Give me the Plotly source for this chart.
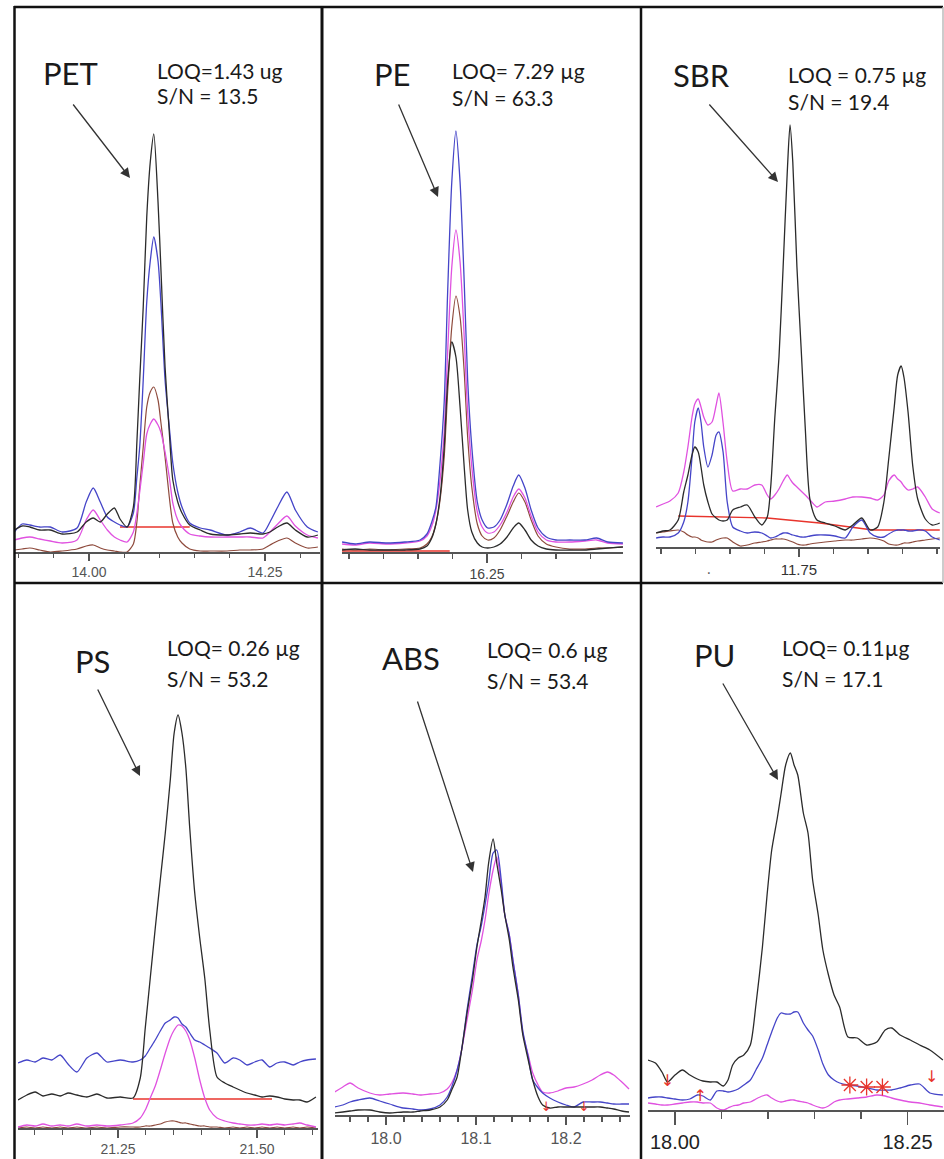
import plotly.graph_objects as go

W, H = 944, 1159

# ---------------- DATA (retention time in min, intensity in arbitrary units) ----------------
PET_RT = [13.894, 13.905, 13.916, 13.930, 13.945, 13.962, 13.983, 13.996, 14.006, 14.016, 14.026, 14.036,
          14.044, 14.054, 14.063, 14.068, 14.072, 14.077, 14.082, 14.087, 14.092, 14.098, 14.102, 14.108,
          14.114, 14.119, 14.126, 14.132, 14.143, 14.158, 14.172, 14.196, 14.214, 14.229, 14.247, 14.257,
          14.268, 14.281, 14.293, 14.310, 14.325]
PET_BLUE = [20, 28, 27, 25, 25, 20, 24, 50, 64, 50, 35, 30, 27, 25, 39, 75, 105, 172, 250, 291, 315, 291, 250,
            172, 125, 89, 60, 45, 29, 24, 22, 17, 20, 24, 19, 30, 45, 60, 42, 25, 20]
PET_BLACK = [22, 26, 25, 22, 22, 18, 20, 30, 34, 30, 38, 44, 33, 25, 45, 110, 172, 245, 335, 390, 418, 350, 285,
             185, 120, 72, 50, 39, 27, 22, 18, 17, 18, 19, 18, 20, 25, 29, 22, 15, 17]
PET_MAGENTA = [12, 14, 15, 13, 11, 9, 12, 32, 42, 32, 22, 15, 12, 10, 20, 39, 60, 89, 118, 128, 133, 127, 120,
               100, 75, 49, 32, 25, 18, 16, 15, 15, 15, 15, 14, 20, 28, 36, 26, 17, 14]
PET_BROWN = [2, 3, 4, 2, 0, 1, 3, 6, 7, 4, 2, 1, 0, 0, 8, 30, 65, 105, 145, 160, 165, 152, 130, 95, 55, 29, 15,
             9, 3, 1, 1, 1, 2, 2, 3, 7, 11, 14, 9, 4, 5]
PET_BASE_RT = [14.044, 14.143]
PET_BASE = [25, 25]

PE_RT = [16.040, 16.059, 16.080, 16.105, 16.131, 16.153, 16.163, 16.170, 16.176, 16.182, 16.188, 16.193,
         16.199, 16.205, 16.211, 16.217, 16.222, 16.228, 16.236, 16.243, 16.251, 16.260, 16.269, 16.279,
         16.288, 16.296, 16.305, 16.314, 16.324, 16.336, 16.350, 16.370, 16.392, 16.409, 16.425, 16.447]
PE_BLUE = [10, 8, 10, 9, 10, 12, 18, 30, 45, 89, 150, 260, 370, 421, 370, 270, 172, 105, 50, 32, 24, 25, 32, 48,
           66, 77, 64, 42, 24, 15, 12, 12, 12, 14, 10, 9]
PE_MAGENTA = [8, 7, 9, 8, 9, 11, 16, 26, 42, 72, 120, 200, 285, 322, 290, 215, 140, 85, 40, 25, 19, 20, 27, 40,
              55, 63, 54, 36, 20, 12, 10, 10, 11, 12, 9, 8]
PE_BROWN = [3, 2, 3, 2, 3, 4, 8, 15, 28, 52, 95, 160, 225, 256, 235, 180, 115, 65, 28, 16, 12, 14, 22, 36, 50,
            59, 50, 32, 16, 8, 5, 3, 3, 4, 4, 5]
PE_BLACK = [2, 3, 2, 2, 2, 3, 6, 14, 28, 55, 105, 170, 210, 195, 145, 85, 42, 20, 9, 5, 4, 5, 8, 15, 24, 29, 22,
            12, 6, 3, 2, 2, 2, 3, 4, 5]
PE_BASE_RT = [16.040, 16.196]
PE_BASE = [1, 1]

SBR_RT = [11.543, 11.553, 11.563, 11.575, 11.583, 11.589, 11.595, 11.599, 11.604, 11.608, 11.612, 11.618,
          11.624, 11.630, 11.634, 11.640, 11.646, 11.654, 11.665, 11.675, 11.686, 11.696, 11.704, 11.709,
          11.715, 11.721, 11.727, 11.733, 11.737, 11.741, 11.747, 11.753, 11.759, 11.766, 11.776, 11.788,
          11.802, 11.817, 11.828, 11.841, 11.853, 11.864, 11.873, 11.880, 11.888, 11.893, 11.898, 11.902,
          11.908, 11.915, 11.922, 11.933, 11.943, 11.954]
SBR_BLACK = [14, 16, 17, 27, 55, 72, 92, 100, 95, 80, 62, 45, 33, 29, 27, 26, 27, 37, 40, 42, 30, 22, 30, 60,
             130, 190, 280, 375, 422, 385, 280, 200, 120, 47, 27, 24, 21, 17, 22, 29, 17, 20, 45, 88, 140, 172,
             181, 170, 135, 80, 48, 28, 22, 24]
SBR_BLUE = [9, 10, 10, 14, 25, 45, 90, 125, 139, 125, 100, 80, 92, 112, 115, 95, 45, 20, 16, 14, 15, 14, 11, 9,
            10, 12, 14, 14, 13, 12, 11, 10, 10, 11, 12, 12, 11, 9, 20, 27, 14, 10, 10, 13, 16, 17, 17, 17, 16,
            16, 17, 16, 10, 7]
SBR_MAGENTA = [40, 43, 46, 54, 75, 100, 130, 143, 148, 140, 130, 122, 125, 142, 154, 124, 85, 56, 58, 58, 62, 62,
               52, 48, 52, 58, 66, 72, 68, 64, 60, 56, 52, 47, 40, 45, 46, 48, 50, 50, 49, 47, 52, 66, 72, 68,
               65, 61, 57, 58, 60, 50, 38, 34]
SBR_BROWN = [14, 15, 16, 17, 15, 12, 10, 10, 9, 7, 6, 5, 5, 7, 8, 9, 9, 5, 1, 2, 4, 5, 6, 7, 8, 8, 8, 7, 6, 5,
             3, 2, 2, 3, 4, 5, 6, 7, 7, 8, 9, 8, 6, 3, 2, 2, 3, 4, 4, 5, 6, 7, 8, 9]
SBR_BASE_RT = [11.575, 11.704, 11.780, 11.857, 11.954]
SBR_BASE = [31, 29, 24, 17, 17]

PS_RT = [21.070, 21.086, 21.101, 21.115, 21.131, 21.146, 21.160, 21.176, 21.194, 21.212, 21.230, 21.254,
         21.277, 21.290, 21.299, 21.308, 21.317, 21.326, 21.335, 21.344, 21.351, 21.358, 21.365, 21.372,
         21.379, 21.388, 21.397, 21.406, 21.415, 21.428, 21.442, 21.457, 21.469, 21.482, 21.496, 21.509,
         21.523, 21.536, 21.550, 21.565, 21.577, 21.590, 21.606]
PS_BLACK = [28, 33, 36, 32, 34, 32, 35, 33, 31, 34, 30, 31, 30, 50, 100, 150, 200, 248, 295, 348, 395, 413, 395,
            360, 300, 235, 190, 150, 98, 51, 45, 41, 38, 35, 33, 31, 32, 31, 29, 28, 28, 26, 31]
PS_BLUE = [65, 68, 66, 70, 68, 73, 64, 56, 70, 75, 66, 68, 66, 68, 72, 80, 88, 97, 105, 108, 111, 110, 104, 101,
           95, 88, 86, 83, 80, 75, 65, 70, 68, 63, 66, 68, 61, 65, 66, 63, 66, 68, 69]
PS_MAGENTA = [1, 3, 2, 4, 2, 3, 2, 4, 2, 3, 2, 3, 5, 10, 18, 30, 42, 58, 75, 90, 98, 103, 102, 97, 88, 70, 48,
              30, 18, 10, 7, 5, 4, 3, 3, 4, 3, 4, 3, 4, 5, 3, 1]
PS_BROWN = [0, 1, 0, 1, 0, 1, 0, 1, 0, 1, 0, 1, 1, 1, 2, 2, 3, 4, 6, 7, 7, 6, 5, 5, 4, 3, 2, 2, 1, 1, 0, 1, 0,
            1, 0, 1, 0, 1, 0, 1, 0, 1, 0]
PS_BASE_RT = [21.277, 21.527]
PS_BASE = [29, 29]

ABS_RT = [17.943, 17.952, 17.960, 17.969, 17.982, 17.993, 18.004, 18.019, 18.030, 18.038, 18.049, 18.060,
          18.068, 18.073, 18.079, 18.084, 18.090, 18.096, 18.101, 18.106, 18.110, 18.114, 18.119, 18.123,
          18.128, 18.132, 18.137, 18.141, 18.147, 18.152, 18.158, 18.163, 18.169, 18.174, 18.182, 18.191,
          18.200, 18.209, 18.219, 18.229, 18.238, 18.246, 18.253, 18.262, 18.270]
ABS_BLACK = [2, 3, 4, 5, 5, 3, 2, 3, 3, 4, 5, 8, 15, 25, 38, 65, 102, 135, 168, 195, 218, 252, 276, 252, 225,
             200, 175, 148, 115, 80, 55, 35, 18, 10, 7, 8, 8, 8, 8, 8, 8, 7, 6, 4, 3]
ABS_BLUE = [8, 10, 13, 15, 17, 14, 11, 7, 6, 5, 6, 10, 18, 28, 45, 65, 105, 140, 170, 190, 210, 232, 262, 265,
            235, 200, 180, 155, 120, 84, 58, 35, 27, 22, 17, 13, 10, 8, 13, 13, 13, 12, 11, 11, 11]
ABS_MAGENTA = [23, 28, 32, 27, 22, 20, 21, 22, 21, 20, 21, 22, 26, 32, 45, 65, 95, 125, 155, 175, 195, 220, 245,
               258, 230, 200, 180, 155, 120, 82, 60, 42, 30, 23, 22, 24, 27, 28, 31, 35, 40, 43, 40, 33, 26]
ABS_MARK_RT = [18.178, 18.220]
ABS_MARK = [7, 7]

PU_RT = [17.971, 17.979, 17.986, 17.992, 18.000, 18.008, 18.016, 18.024, 18.030, 18.038, 18.045, 18.052,
         18.057, 18.062, 18.068, 18.074, 18.081, 18.087, 18.094, 18.099, 18.104, 18.110, 18.114, 18.119,
         18.124, 18.128, 18.132, 18.138, 18.143, 18.148, 18.154, 18.159, 18.165, 18.171, 18.177, 18.186,
         18.196, 18.206, 18.217, 18.226, 18.233, 18.242, 18.253, 18.263, 18.274, 18.288]
PU_BLACK = [50, 47, 38, 28, 35, 40, 35, 31, 29, 28, 28, 24, 30, 45, 52, 55, 65, 105, 163, 215, 260, 292, 316,
            345, 357, 345, 335, 297, 277, 230, 195, 160, 135, 115, 103, 73, 72, 65, 68, 80, 82, 75, 70, 65, 60, 50]
PU_BLUE = [12, 13, 13, 12, 11, 10, 11, 15, 14, 10, 19, 19, 18, 19, 21, 25, 30, 40, 52, 65, 78, 92, 97, 96, 96,
           98, 98, 87, 80, 74, 60, 46, 35, 30, 27, 25, 24, 22, 20, 20, 20, 22, 25, 26, 17, 15]
PU_MAGENTA = [7, 6, 5, 5, 6, 7, 8, 8, 7, 7, 2, 0, 2, 4, 5, 7, 8, 11, 14, 15, 12, 9, 8, 9, 10, 10, 9, 8, 7, 5, 3,
              2, 4, 8, 10, 11, 12, 13, 15, 14, 12, 10, 8, 7, 5, 3]
PU_DOWN_RT = [17.992, 18.276]
PU_DOWN = [28, 32]
PU_UP_RT = [18.027]
PU_UP = [13]
PU_STAR_RT = [18.188, 18.206, 18.223]
PU_STAR = [25, 23, 23]

# ---------------- STYLE ----------------
C_BLACK = "#2b2b2b"
C_BLUE = "#4545c8"
C_MAG = "#e052e0"
C_BROWN = "#8e4a3c"
C_RED = "#e8342c"


def px_x(p):
    return p / W


def px_y(p):
    return 1 - p / H


fig = go.Figure()

panels = [
    dict(name="PET", x0=14, x1=320, yb=552, yt=10, rng=[13.8935, 14.328], dtick=0.25, minor=0.05, fmt=".2f",
         fs=14, tc="#555", tl=7, ml=4),
    dict(name="PE", x0=342, x1=623, yb=552, yt=10, rng=[16.0399, 16.4471], dtick=0.25, minor=0.05, fmt=".2f",
         fs=14, tc="#444", tl=9, ml=5),
    dict(name="SBR", x0=656, x1=940, yb=547, yt=10, rng=[11.5428, 11.9543], dtick=0.25, minor=0.05, fmt=".2f",
         fs=15, tc="#333", tl=8, ml=5),
    dict(name="PS", x0=18, x1=318, yb=1128, yt=588, rng=[21.0701, 21.6097], dtick=0.25, minor=0.05, fmt=".2f",
         fs=14, tc="#555", tl=8, ml=5),
    dict(name="ABS", x0=335, x1=630, yb=1115, yt=588, rng=[17.9433, 18.2711], dtick=0.1, minor=0.02, fmt=".1f",
         fs=16, tc="#555", tl=8, ml=5),
    dict(name="PU", x0=648, x1=944, yb=1110, yt=588, rng=[17.971, 18.2892], dtick=0.25, minor=0.05, fmt=".2f",
         fs=20, tc="#222", tl=13, ml=7),
]

series = {
    "PET": (PET_RT, PET_BROWN, PET_MAGENTA, PET_BLUE, PET_BLACK),
    "PE": (PE_RT, PE_BROWN, PE_MAGENTA, PE_BLUE, PE_BLACK),
    "SBR": (SBR_RT, SBR_BROWN, SBR_MAGENTA, SBR_BLUE, SBR_BLACK),
    "PS": (PS_RT, PS_BROWN, PS_MAGENTA, PS_BLUE, PS_BLACK),
    "ABS": (ABS_RT, None, ABS_MAGENTA, ABS_BLUE, ABS_BLACK),
    "PU": (PU_RT, None, PU_MAGENTA, PU_BLUE, PU_BLACK),
}
baselines = {"PET": (PET_BASE_RT, PET_BASE), "PE": (PE_BASE_RT, PE_BASE), "SBR": (SBR_BASE_RT, SBR_BASE),
             "PS": (PS_BASE_RT, PS_BASE)}

layout = {}
for i, p in enumerate(panels, start=1):
    xa = "xaxis" if i == 1 else f"xaxis{i}"
    ya = "yaxis" if i == 1 else f"yaxis{i}"
    xr = "x" if i == 1 else f"x{i}"
    yr = "y" if i == 1 else f"y{i}"
    layout[xa] = dict(
        domain=[px_x(p["x0"]), px_x(p["x1"])], range=p["rng"], anchor=yr,
        showgrid=False, zeroline=False, showline=True, linecolor="#555", linewidth=1.5,
        ticks="outside", ticklen=p["tl"], tickwidth=1.3, tickcolor="#555", dtick=p["dtick"], tick0=0,
        tickformat=p["fmt"], tickfont=dict(family="Liberation Sans, Arial", size=p["fs"], color=p["tc"]),
        minor=dict(dtick=p["minor"], ticks="outside", ticklen=p["ml"], tickcolor="#555", tickwidth=1.2,
                   showgrid=False),
        fixedrange=True,
    )
    layout[ya] = dict(domain=[px_y(p["yb"]), px_y(p["yt"])], range=[0, p["yb"] - p["yt"]], anchor=xr,
                      visible=False, fixedrange=True)
    rt, brown, mag, blue, black = series[p["name"]]
    if p["name"] in baselines:
        brt, bv = baselines[p["name"]]
        fig.add_trace(go.Scatter(x=brt, y=bv, mode="lines", line=dict(color=C_RED, width=1.3),
                                 xaxis=xr, yaxis=yr, showlegend=False, hoverinfo="skip"))
    for vals, col, wd in ((brown, C_BROWN, 1.2), (mag, C_MAG, 1.3), (blue, C_BLUE, 1.3), (black, C_BLACK, 1.3)):
        if vals is None:
            continue
        fig.add_trace(go.Scatter(x=rt, y=vals, mode="lines",
                                 line=dict(color=col, width=wd, shape="spline", smoothing=0.7),
                                 xaxis=xr, yaxis=yr, showlegend=False, hoverinfo="skip"))

# red peak-integration markers
fig.add_trace(go.Scatter(x=ABS_MARK_RT, y=ABS_MARK, mode="text", text=["↓", "↓"],
                         textfont=dict(color=C_RED, size=13, family="DejaVu Sans"), textposition="middle center",
                         xaxis="x5", yaxis="y5", showlegend=False, hoverinfo="skip"))
fig.add_trace(go.Scatter(x=PU_DOWN_RT, y=PU_DOWN, mode="text", text=["↓", "↓"],
                         textfont=dict(color=C_RED, size=16, family="DejaVu Sans"), textposition="middle center",
                         xaxis="x6", yaxis="y6", showlegend=False, hoverinfo="skip"))
fig.add_trace(go.Scatter(x=PU_UP_RT, y=PU_UP, mode="text", text=["↑"],
                         textfont=dict(color=C_RED, size=16, family="DejaVu Sans"), textposition="middle center",
                         xaxis="x6", yaxis="y6", showlegend=False, hoverinfo="skip"))
fig.add_trace(go.Scatter(x=PU_STAR_RT, y=PU_STAR, mode="markers",
                         marker=dict(symbol="asterisk-open", size=14, color=C_RED,
                                     line=dict(color=C_RED, width=1.3)),
                         xaxis="x6", yaxis="y6", showlegend=False, hoverinfo="skip"))

fig.update_layout(width=W, height=H, margin=dict(l=0, r=0, t=0, b=0), paper_bgcolor="white",
                  plot_bgcolor="rgba(0,0,0,0)", **layout)

shapes = []


def line(x0, y0, x1, y1, w=2.5, c="#111"):
    shapes.append(dict(type="line", xref="paper", yref="paper", x0=px_x(x0), y0=px_y(y0), x1=px_x(x1),
                       y1=px_y(y1), line=dict(color=c, width=w), layer="above"))


line(14, 7, 943, 7)
line(14, 583, 943, 583)
line(14.5, 6, 14.5, 1159)
line(322, 6, 322, 1159, w=3)
line(641, 6, 641, 1159)
line(943, 7, 943, 583, w=1.5, c="#bbb")
fig.update_layout(shapes=shapes)

TXT = "Lato, Open Sans, sans-serif"
NAME_FS = 31
LOQ_FS = 21
texts = [
    ("PET", 70, 73, "LOQ=1.43 ug", "S/N = 13.5", 155, 70, 96, (130, 178), (72, 103)),
    ("PE", 392, 74, "LOQ= 7.29 µg", "S/N = 63.3", 450, 71, 97, (438, 197), (398, 103)),
    ("SBR", 701, 75, "LOQ = 0.75 µg", "S/N = 19.4", 786, 74, 101, (778, 182), (708, 103)),
    ("PS", 92, 661, "LOQ= 0.26 µg", "S/N = 53.2", 165, 647, 678, (140, 776), (97, 688)),
    ("ABS", 411, 658, "LOQ= 0.6 µg", "S/N = 53.4", 485, 650, 680, (473, 872), (417, 700)),
    ("PU", 714, 655, "LOQ= 0.11µg", "S/N = 17.1", 780, 647, 678, (778, 780), (722, 682)),
]
ann = []
for name, nx, ny, l1, l2, lx, l1y, l2y, tip, tail in texts:
    ann.append(dict(text=name, x=px_x(nx), y=px_y(ny), xref="paper", yref="paper", showarrow=False,
                    xanchor="center", yanchor="middle", font=dict(family=TXT, size=NAME_FS, color="#1a1a1a")))
    ann.append(dict(text=l1, x=px_x(lx), y=px_y(l1y), xref="paper", yref="paper", showarrow=False,
                    xanchor="left", yanchor="middle", font=dict(family=TXT, size=LOQ_FS, color="#1a1a1a")))
    ann.append(dict(text=l2, x=px_x(lx), y=px_y(l2y), xref="paper", yref="paper", showarrow=False,
                    xanchor="left", yanchor="middle", font=dict(family=TXT, size=LOQ_FS, color="#1a1a1a")))
    ann.append(dict(text="", x=px_x(tip[0]), y=px_y(tip[1]), xref="paper", yref="paper", showarrow=True,
                    ax=tail[0] - tip[0], ay=tail[1] - tip[1], arrowhead=2, arrowsize=1.5, arrowwidth=1.3,
                    arrowcolor="#333", standoff=0))
ann.append(dict(text="·", x=px_x(713), y=px_y(572), xref="paper", yref="paper", showarrow=False,
                font=dict(size=14, color="#555")))
fig.update_layout(annotations=ann)

fig.write_html("out.html", config={"displayModeBar": False, "staticPlot": True},
               post_script="document.body.style.margin='0px';document.body.style.overflow='hidden';")
